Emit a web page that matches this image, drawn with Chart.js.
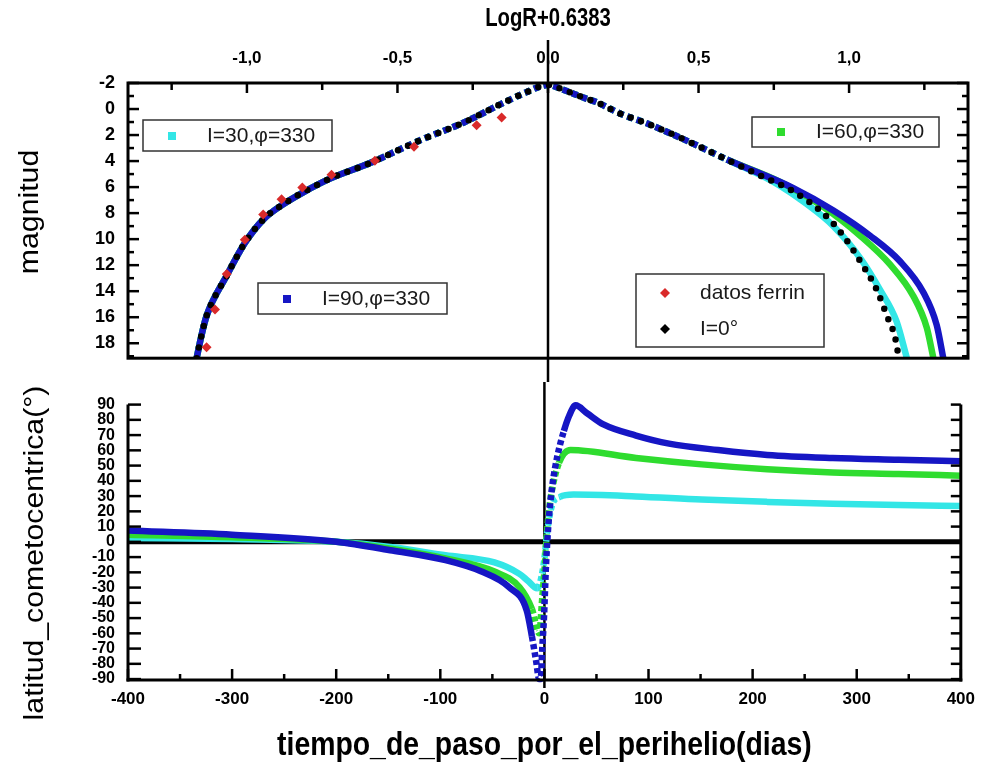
<!DOCTYPE html>
<html lang="es">
<head>
<meta charset="utf-8">
<title>Magnitud y latitud cometocéntrica</title>
<script src="https://cdn.jsdelivr.net/npm/chart.js@4.4.1/dist/chart.umd.min.js"></script>
<style>
    html, body { margin: 0; padding: 0; background: #fff; }
    .lienzo { position: absolute; left: 0; }
    #graficoMagnitud { top: 0; }
    #graficoLatitud { top: 382px; }
</style>
</head>
<body>
<canvas id="graficoMagnitud" class="lienzo" width="984" height="382"></canvas>
<canvas id="graficoLatitud" class="lienzo" width="984" height="392"></canvas>
<script>
// ---- Panel superior: magnitud vs LogR+0.6383 ----
// rama antes del perihelio (las curvas coinciden)
const ramaIzqLogR = [-1.167, -1.151, -1.134, -1.067, -1.007, -0.946, -0.885, -0.813, -0.724, -0.591, -0.425, -0.281, -0.150, -0.076, 0.000];
const ramaIzqMag  = [19.15, 17.4, 15.9, 12.8, 10.3, 8.5, 7.4, 6.4, 5.35, 4.15, 2.4, 1.05, -0.45, -1.25, -1.85];
// tramo comun despues del perihelio
const ramaDerLogR = [0.043, 0.117, 0.163, 0.239, 0.339, 0.483, 0.594];
const ramaDerMag  = [-1.55, -0.88, -0.51, 0.34, 1.2, 2.67, 3.88];
// colas que se separan
const colaI0LogR  = [0.704, 0.815, 0.915, 0.981, 1.037, 1.092, 1.125, 1.153, 1.162];
const colaI0Mag   = [5.1, 6.33, 8.04, 9.74, 11.7, 13.9, 15.85, 17.56, 18.7];
const colaI30LogR = [0.749, 0.859, 0.948, 1.037, 1.103, 1.158, 1.192];
const colaI30Mag  = [5.6, 7.3, 9.0, 11.46, 13.9, 16.34, 19.15];
const colaI60LogR = [0.771, 0.915, 1.037, 1.136, 1.214, 1.258, 1.280];
const colaI60Mag  = [5.6, 7.54, 9.74, 11.94, 14.4, 16.8, 19.15];
const colaI90LogR = [0.815, 0.948, 1.070, 1.169, 1.247, 1.291, 1.313];
const colaI90Mag  = [6.08, 7.8, 9.74, 11.7, 14.1, 16.6, 19.15];
// datos ferrin
const ferrinLogR = [-1.134, -1.106, -1.067, -1.007, -0.946, -0.885, -0.816, -0.719, -0.575, -0.445, -0.237, -0.154];
const ferrinMag  = [18.3, 15.4, 12.67, 10.04, 8.11, 6.94, 6.03, 5.06, 3.98, 2.9, 1.25, 0.66];

const magMarcas = [-2, 0, 2, 4, 6, 8, 10, 12, 14, 16, 18];
const magMarcasMenores = [-1, 1, 3, 5, 7, 9, 11, 13, 15, 17, 19];
const logRMarcas = [-1, -0.5, 0, 0.5, 1];
const logRMarcasMenores = [-1.25, -0.75, -0.25, 0.25, 0.75, 1.25];

// ---- Panel inferior: latitud cometocentrica vs tiempo ----
const tiempoI30 = [-400, -300, -200, -146, -95, -48, -24, -16, -7, -3.5, 0, 2.9, 7.6, 15, 28, 88, 151, 214, 277, 340, 400];
const latI30    = [2.6, 1.8, 0, -3.6, -8.8, -13.5, -21, -25.5, -30.5, -25, -11, 8, 24.6, 29.5, 31, 29.8, 27.7, 26.2, 25, 24.1, 23.5];
const tiempoI60 = [-400, -300, -200, -146, -95, -48, -24, -12, -5, -2, 0, 2.2, 4.4, 7.6, 14, 25, 88, 151, 214, 277, 340, 400];
const latI60    = [4.7, 3.0, 0, -4.7, -10.9, -19.5, -29.7, -44, -60, -36, -19, 3.8, 20.5, 35, 51.8, 60.2, 55, 50.8, 47.6, 45.5, 44.5, 43.4];
const tiempoI90 = [-400, -300, -200, -146, -95, -61, -34, -17, -12, -8, -5, -3.6, -2, -0.3, 1.3, 2.9, 4.4, 7.6, 12.4, 18.7, 24, 30, 41, 56.7, 88, 119.7, 167, 214, 277, 340, 400];
const latI90    = [7.4, 4.7, 0.1, -5.7, -12, -19.3, -29.7, -45, -62, -78, -90, -90, -69, -48, -19, 1.7, 16.3, 37, 56, 72.7, 83, 89.5, 84.3, 77, 69.7, 64.4, 60.2, 57, 55, 53.9, 52.9];

const latMarcas = [90, 80, 70, 60, 50, 40, 30, 20, 10, 0, -10, -20, -30, -40, -50, -60, -70, -80, -90];
const diasMarcas = [-400, -300, -200, -100, 0, 100, 200, 300, 400];
const diasMarcasMenores = [-350, -250, -150, -50, 50, 150, 250, 350];

const CIAN = '#33e6e6';
const VERDE = '#2fdc2f';
const AZUL = '#1616c4';
const ROJO = '#d92a2a';
const NEGRO = '#000';
const NORMAL = "'Liberation Sans', Arial, sans-serif";

const puntos = (xs, ys) => xs.map((x, i) => ({ x: x, y: ys[i] }));

// tramos punteados (marcadores separados) como en el original
const punteadoArriba = ctx => (ctx.p0.parsed.y < 4.5 && ctx.p1.parsed.y < 4.5) ? [6, 4] : undefined;
const punteadoPerihelio = ctx => (ctx.p0.parsed.x >= -12 && ctx.p1.parsed.x <= 22) ? [5, 3] : undefined;

function linea(ctx, x1, y1, x2, y2, ancho) {
    ctx.save();
    ctx.strokeStyle = NEGRO;
    ctx.lineWidth = ancho;
    ctx.beginPath();
    ctx.moveTo(x1, y1);
    ctx.lineTo(x2, y2);
    ctx.stroke();
    ctx.restore();
}

// marcas hacia dentro
function marcasY(ctx, escala, valores, xBase, largo) {
    valores.forEach(v => {
        const y = escala.getPixelForValue(v);
        linea(ctx, xBase, y, xBase + largo, y, 2.5);
    });
}

function marcasX(ctx, escala, valores, yBase, largo) {
    valores.forEach(v => {
        const x = escala.getPixelForValue(v);
        linea(ctx, x, yBase, x, yBase + largo, 2.5);
    });
}

// texto estrechado (la figura original esta comprimida en horizontal)
function texto(ctx, cadena, x, y, fuente, giro, estirar) {
    ctx.save();
    ctx.translate(x, y);
    ctx.rotate(giro);
    ctx.scale(estirar, 1);
    ctx.font = fuente;
    ctx.fillStyle = NEGRO;
    ctx.textAlign = 'center';
    ctx.textBaseline = 'middle';
    ctx.fillText(cadena, 0, 0);
    ctx.restore();
}

function marcador(ctx, forma, color, cx, cy) {
    ctx.fillStyle = color;
    if (forma === 'rombo') {
        ctx.beginPath();
        ctx.moveTo(cx, cy - 5);
        ctx.lineTo(cx + 5, cy);
        ctx.lineTo(cx, cy + 5);
        ctx.lineTo(cx - 5, cy);
        ctx.closePath();
        ctx.fill();
    } else {
        ctx.fillRect(cx - 4, cy - 4, 8, 8);
    }
}

function leyenda(ctx, x, y, w, h, filas) {
    ctx.save();
    ctx.fillStyle = '#fff';
    ctx.fillRect(x, y, w, h);
    ctx.strokeStyle = '#333';
    ctx.lineWidth = 1.5;
    ctx.strokeRect(x, y, w, h);
    ctx.font = '21px ' + NORMAL;
    ctx.textBaseline = 'middle';
    filas.forEach(f => {
        marcador(ctx, f.forma, f.color, x + 29, y + f.dy);
        ctx.fillStyle = '#1a1a1a';
        ctx.fillText(f.texto, x + 64, y + f.dy);
    });
    ctx.restore();
}

const marcoSuperior = {
    id: 'marcoSuperior',
    beforeDatasetsDraw(chart) {
        const { ctx, scales: { x } } = chart;
        const x0 = x.getPixelForValue(0);
        linea(ctx, x0, 40, x0, chart.height, 2.5);
    },
    afterDraw(chart) {
        const { ctx, chartArea: a, scales: { x, y } } = chart;
        ctx.save();
        ctx.lineWidth = 3;
        ctx.strokeStyle = NEGRO;
        ctx.strokeRect(a.left, a.top, a.right - a.left, a.bottom - a.top);
        ctx.restore();
        marcasY(ctx, y, magMarcas, a.left, 11);
        marcasY(ctx, y, magMarcasMenores, a.left, 6);
        marcasY(ctx, y, magMarcas, a.right, -11);
        marcasY(ctx, y, magMarcasMenores, a.right, -6);
        marcasX(ctx, x, logRMarcas, a.top, 10);
        marcasX(ctx, x, logRMarcasMenores, a.top, 7);

        texto(ctx, 'LogR+0.6383', (a.left + a.right) / 2, 19, 'bold 26px ' + NORMAL, 0, 0.78);
        texto(ctx, 'magnitud', 31, 212, '27px ' + NORMAL, -Math.PI / 2, 1.12);

        leyenda(ctx, 143, 120, 189, 31, [{ forma: 'cuadro', color: CIAN, texto: 'I=30,\u03c6=330', dy: 16 }]);
        leyenda(ctx, 258, 283, 189, 31, [{ forma: 'cuadro', color: AZUL, texto: 'I=90,\u03c6=330', dy: 16 }]);
        leyenda(ctx, 752, 117, 187, 30, [{ forma: 'cuadro', color: VERDE, texto: 'I=60,\u03c6=330', dy: 15 }]);
        leyenda(ctx, 636, 274, 188, 73, [
            { forma: 'rombo', color: ROJO, texto: 'datos ferrin', dy: 19 },
            { forma: 'rombo', color: NEGRO, texto: 'I=0\u00b0', dy: 55 }
        ]);
    }
};

const marcoInferior = {
    id: 'marcoInferior',
    beforeDatasetsDraw(chart) {
        const { ctx, chartArea: a, scales: { x, y } } = chart;
        const x0 = x.getPixelForValue(0);
        linea(ctx, x0, 0, x0, a.bottom + 8, 2.5);
        const y0 = y.getPixelForValue(0);
        linea(ctx, a.left, y0, a.right, y0, 5);
    },
    afterDraw(chart) {
        const { ctx, chartArea: a, scales: { x, y } } = chart;
        linea(ctx, a.left, a.top, a.left, a.bottom + 1.5, 3);
        linea(ctx, a.right, a.top, a.right, a.bottom + 1.5, 3);
        linea(ctx, a.left - 1.5, a.bottom, a.right + 1.5, a.bottom, 3);
        marcasY(ctx, y, latMarcas, a.left, 13);
        marcasY(ctx, y, latMarcas, a.right, -10);
        marcasX(ctx, x, diasMarcas, a.bottom, -11);
        marcasX(ctx, x, diasMarcasMenores, a.bottom, -6);

        texto(ctx, 'latitud_cometocentrica(\u00b0)', 36, 171, '27px ' + NORMAL, -Math.PI / 2, 1.12);
        texto(ctx, 'tiempo_de_paso_por_el_perihelio(dias)', (a.left + a.right) / 2, 364, 'bold 33px ' + NORMAL, 0, 0.86);
    }
};

const fuenteMarcas = { family: NORMAL, size: 17, weight: 'bold' };

function serieSuperior(etiqueta, xs, ys, color, orden) {
    return {
        label: etiqueta,
        data: puntos(xs, ys),
        showLine: true,
        borderColor: color,
        borderWidth: 6.5,
        cubicInterpolationMode: 'monotone',
        segment: { borderDash: punteadoArriba },
        pointRadius: 0,
        order: orden
    };
}

function serieInferior(etiqueta, xs, ys, color, orden) {
    return {
        label: etiqueta,
        data: puntos(xs, ys),
        showLine: true,
        borderColor: color,
        borderWidth: 6.5,
        cubicInterpolationMode: 'monotone',
        segment: { borderDash: punteadoPerihelio },
        pointRadius: 0,
        clip: 8,
        order: orden
    };
}

new Chart(document.getElementById('graficoMagnitud'), {
    type: 'scatter',
    data: {
        datasets: [
            {
                label: 'datos ferrin',
                data: puntos(ferrinLogR, ferrinMag),
                pointStyle: 'rectRot',
                pointRadius: 5,
                backgroundColor: ROJO,
                borderColor: ROJO,
                borderWidth: 0,
                order: 0
            },
            {
                label: 'I=0\u00b0',
                data: puntos([...ramaIzqLogR, ...ramaDerLogR, ...colaI0LogR], [...ramaIzqMag, ...ramaDerMag, ...colaI0Mag]),
                showLine: true,
                borderColor: NEGRO,
                borderWidth: 6.5,
                borderDash: [0, 11],
                borderCapStyle: 'round',
                cubicInterpolationMode: 'monotone',
                pointRadius: 0,
                order: 1
            },
            serieSuperior('I=90,\u03c6=330', [...ramaIzqLogR, ...ramaDerLogR, ...colaI90LogR], [...ramaIzqMag, ...ramaDerMag, ...colaI90Mag], AZUL, 2),
            serieSuperior('I=60,\u03c6=330', [...ramaIzqLogR, ...ramaDerLogR, ...colaI60LogR], [...ramaIzqMag, ...ramaDerMag, ...colaI60Mag], VERDE, 3),
            serieSuperior('I=30,\u03c6=330', [...ramaIzqLogR, ...ramaDerLogR, ...colaI30LogR], [...ramaIzqMag, ...ramaDerMag, ...colaI30Mag], CIAN, 4)
        ]
    },
    options: {
        responsive: false,
        animation: false,
        devicePixelRatio: 1,
        layout: { padding: { top: 0, left: 0, right: 16, bottom: 10 } },
        plugins: { legend: { display: false }, tooltip: { enabled: false } },
        scales: {
            x: {
                type: 'linear',
                position: 'top',
                min: -1.395,
                max: 1.395,
                afterFit: s => { s.height = 83; },
                afterBuildTicks: s => { s.ticks = logRMarcas.map(v => ({ value: v })); },
                grid: { display: false, drawTicks: false },
                border: { display: false },
                ticks: {
                    autoSkip: false,
                    maxRotation: 0,
                    padding: 14,
                    color: NEGRO,
                    font: fuenteMarcas,
                    callback: v => v.toFixed(1).replace('.', ',')
                }
            },
            y: {
                type: 'linear',
                position: 'left',
                reverse: true,
                min: -2,
                max: 19.15,
                afterFit: s => { s.width = 128; },
                afterBuildTicks: s => { s.ticks = magMarcas.map(v => ({ value: v })); },
                grid: { display: false, drawTicks: false },
                border: { display: false },
                ticks: { autoSkip: false, padding: 13, color: NEGRO, font: { family: NORMAL, size: 18, weight: 'bold' } }
            }
        }
    },
    plugins: [marcoSuperior]
});

new Chart(document.getElementById('graficoLatitud'), {
    type: 'scatter',
    data: {
        datasets: [
            serieInferior('I=90,\u03c6=330', tiempoI90, latI90, AZUL, 1),
            serieInferior('I=60,\u03c6=330', tiempoI60, latI60, VERDE, 2),
            serieInferior('I=30,\u03c6=330', tiempoI30, latI30, CIAN, 3)
        ]
    },
    options: {
        responsive: false,
        animation: false,
        devicePixelRatio: 1,
        layout: { padding: { top: 10, left: 0, right: 16, bottom: 0 } },
        plugins: { legend: { display: false }, tooltip: { enabled: false } },
        scales: {
            x: {
                type: 'linear',
                position: 'bottom',
                min: -400,
                max: 400,
                afterFit: s => { s.height = 94; },
                afterBuildTicks: s => { s.ticks = diasMarcas.map(v => ({ value: v })); },
                grid: { display: false, drawTicks: false },
                border: { display: false },
                ticks: { autoSkip: false, maxRotation: 0, padding: 9, color: NEGRO, font: fuenteMarcas }
            },
            y: {
                type: 'linear',
                position: 'left',
                min: -90.6,
                max: 90,
                afterFit: s => { s.width = 128; },
                afterBuildTicks: s => { s.ticks = latMarcas.map(v => ({ value: v })); },
                grid: { display: false, drawTicks: false },
                border: { display: false },
                ticks: { autoSkip: false, padding: 13, color: NEGRO, font: { family: NORMAL, size: 16, weight: 'bold' } }
            }
        }
    },
    plugins: [marcoInferior]
});
</script>
</body>
</html>
